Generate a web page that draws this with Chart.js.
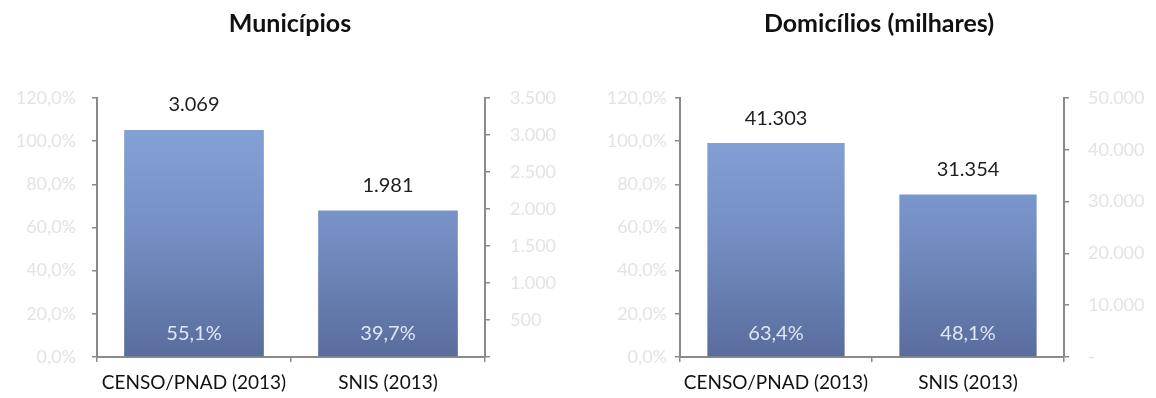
<!DOCTYPE html>
<html>
<head>
<meta charset="utf-8">
<script src="https://cdn.jsdelivr.net/npm/chart.js@4"></script>
<style>
  html, body { margin: 0; padding: 0; background: #fff; }
  .wrap { position: absolute; top: 0; width: 578px; height: 398px; }
  #w1 { left: 0; }
  #w2 { left: 578px; }
</style>
</head>
<body>
<div class="wrap" id="w1"><canvas id="c1" width="578" height="398"></canvas></div>
<div class="wrap" id="w2"><canvas id="c2" width="578" height="398"></canvas></div>
<script>
// Categories and values
const categories = ['CENSO/PNAD (2013)', 'SNIS (2013)'];
const municipiosCount = [3069, 1981];
const municipiosShare = [55.1, 39.7];
const domiciliosCount = [41303, 31354];
const domiciliosShare = [63.4, 48.1];

// Tick labels (ascending order)
const pctTicks = ['0,0%', '20,0%', '40,0%', '60,0%', '80,0%', '100,0%', '120,0%'];
const municipiosTicks = ['', '500', '1.000', '1.500', '2.000', '2.500', '3.000', '3.500'];
const domiciliosTicks = ['-', '10.000', '20.000', '30.000', '40.000', '50.000'];

const FONT = 'Lato, "Open Sans", sans-serif';

function fmtThousands(v) {
  return String(v).replace(/\B(?=(\d{3})+(?!\d))/g, '.');
}
function fmtPct(v) {
  return v.toFixed(1).replace('.', ',') + '%';
}

function barGradient(ctx) {
  const chart = ctx.chart;
  const area = chart.chartArea;
  if (!area) return '#7089c0';
  const g = chart.ctx.createLinearGradient(0, area.top, 0, area.bottom);
  g.addColorStop(0, '#88a6d9');
  g.addColorStop(0.5, '#7690c6');
  g.addColorStop(1, '#596d9c');
  return g;
}

// Chart heading, centred over the canvas with an optional horizontal shift
const heading = {
  id: 'heading',
  afterDraw(chart) {
    const o = chart.options.plugins.heading;
    const c = chart.ctx;
    c.save();
    c.font = 'bold 25px ' + FONT;
    c.fillStyle = '#111';
    c.textAlign = 'center';
    c.textBaseline = 'middle';
    c.fillText(o.text, chart.width / 2 + o.shift, 24);
    c.restore();
  }
};

// Draws the count above each bar and the share near its base
const barLabels = {
  id: 'barLabels',
  afterDatasetsDraw(chart) {
    const meta = chart.getDatasetMeta(0);
    const counts = chart.data.datasets[0].data;
    const shares = chart.options.plugins.barLabels.shares;
    const c = chart.ctx;
    c.save();
    c.textAlign = 'center';
    c.textBaseline = 'middle';
    meta.data.forEach((bar, i) => {
      c.font = '20px ' + FONT;
      c.fillStyle = '#1e1e1e';
      c.fillText(fmtThousands(counts[i]), bar.x, bar.y - 25);
      c.fillStyle = '#dfe6f4';
      c.fillText(fmtPct(shares[i]), bar.x, bar.base - 23);
    });
    c.restore();
  }
};

function makeChart(id, title, shift, counts, shares, countMax, countStep, countTicks, leftW, rightW, leftPad, rightPad, barPct) {
  const axisColor = '#8a8a8a';
  const tickFont = { family: FONT, size: 18 };
  return new Chart(document.getElementById(id), {
    type: 'bar',
    data: {
      labels: categories,
      datasets: [{
        data: counts,
        yAxisID: 'yCount',
        backgroundColor: barGradient,
        borderWidth: 0,
        barPercentage: barPct,
        categoryPercentage: 1.0
      }]
    },
    options: {
      responsive: false,
      animation: false,
      events: [],
      layout: { padding: { left: 0, right: 0, top: 98, bottom: 0 } },
      plugins: {
        legend: { display: false },
        tooltip: { enabled: false },
        title: { display: false },
        heading: { text: title, shift: shift },
        barLabels: { shares: shares }
      },
      scales: {
        x: {
          offset: true,
          grid: { offset: true, drawOnChartArea: false, drawTicks: true, tickLength: 5, color: axisColor, lineWidth: 1.5 },
          border: { color: axisColor, width: 2 },
          ticks: { color: '#111', font: { family: FONT, size: 19 }, padding: 9, maxRotation: 0 },
          afterFit(s) { s.height = 41; }
        },
        yPct: {
          position: 'left',
          min: 0, max: 120,
          ticks: { stepSize: 20, color: '#e3e3e3', font: tickFont, padding: leftPad,
                   callback: (v, i) => pctTicks[i] },
          grid: { drawOnChartArea: false, drawTicks: true, tickLength: 5, color: axisColor, lineWidth: 1.5 },
          border: { color: axisColor, width: 2 },
          afterFit(s) { s.width = leftW; }
        },
        yCount: {
          position: 'right',
          min: 0, max: countMax,
          ticks: { stepSize: countStep, color: '#e3e3e3', font: tickFont, padding: rightPad,
                   callback: (v, i) => countTicks[i] },
          grid: { drawOnChartArea: false, drawTicks: true, tickLength: 5, color: axisColor, lineWidth: 1.5 },
          border: { color: axisColor, width: 2 },
          afterFit(s) { s.width = rightW; }
        }
      }
    },
    plugins: [barLabels, heading]
  });
}

makeChart('c1', 'Municípios', 1, municipiosCount, municipiosShare, 3500, 500, municipiosTicks,
          97, 93, 16, 20, 0.72);
makeChart('c2', 'Domicílios (milhares)', 12, domiciliosCount, domiciliosShare, 50000, 10000, domiciliosTicks,
          102, 92, 8, 19, 0.715);
</script>
</body>
</html>
